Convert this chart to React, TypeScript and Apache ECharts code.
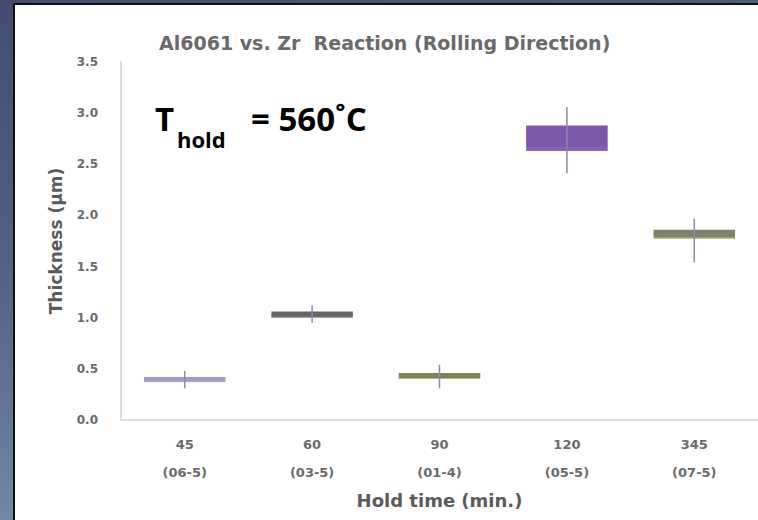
import React, { useEffect, useRef } from 'react';
import * as echarts from 'echarts';

const holdTimes = ['45', '60', '90', '120', '345'];
const sampleIds = ['(06-5)', '(03-5)', '(01-4)', '(05-5)', '(07-5)'];
const whiskerLow = [0.31, 0.95, 0.31, 2.41, 1.54];
const boxLow = [0.37, 1.0, 0.4, 2.63, 1.77];
const boxHigh = [0.42, 1.06, 0.46, 2.88, 1.86];
const whiskerHigh = [0.48, 1.12, 0.54, 3.06, 1.97];
const boxTopColors = ['#a39bbd', '#666666', '#80845e', '#7a58aa', '#7d8268'];
const boxBottomColors = ['#c6bfd8', '#8c8c8c', '#cfe27a', '#8b6ab8', '#cdd98e'];

const titleText = 'Al6061 vs. Zr  Reaction (Rolling Direction)';
const xAxisName = 'Hold time (min.)';
const yAxisName = 'Thickness (μm)';

export default function App() {
  const ref = useRef<HTMLDivElement>(null);
  useEffect(() => {
    if (!ref.current) return;
    const chart = echarts.init(ref.current, undefined, { renderer: 'svg' });
    const categories = holdTimes.map((t, i) => `${t}\n${sampleIds[i]}`);
    const data = holdTimes.map((_, i) => [i, whiskerLow[i], boxLow[i], boxHigh[i], whiskerHigh[i]]);
    chart.setOption({
      animation: false,
      backgroundColor: 'transparent',
      textStyle: { fontFamily: 'DejaVu Sans' },
      title: {
        text: titleText,
        left: 154,
        top: 28,
        textStyle: { fontFamily: 'DejaVu Sans', fontWeight: 'bold', fontSize: 19, color: '#6a6a6a' },
      },
      grid: { left: 121, right: -3, top: 62, bottom: 100 },
      xAxis: {
        type: 'category',
        data: categories,
        name: xAxisName,
        nameLocation: 'middle',
        nameGap: 71,
        nameTextStyle: { fontWeight: 'bold', fontSize: 18, color: '#5a5a5a' },
        axisLine: { lineStyle: { color: '#dedede', width: 2 } },
        axisTick: { show: false },
        axisLabel: { fontWeight: 'bold', fontSize: 13, color: '#6a6a6a', lineHeight: 28, margin: 10 },
        splitLine: { show: false },
      },
      yAxis: {
        type: 'value',
        min: 0,
        max: 3.5,
        interval: 0.5,
        name: yAxisName,
        nameLocation: 'middle',
        nameRotate: 90,
        nameGap: 57,
        nameTextStyle: { fontWeight: 'bold', fontSize: 17, color: '#5a5a5a' },
        axisLine: { show: true, lineStyle: { color: '#dedede', width: 2 } },
        axisTick: { show: false },
        axisLabel: {
          fontWeight: 'bold',
          fontSize: 12,
          color: '#6a6a6a',
          margin: 23,
          formatter: (v: number) => v.toFixed(1),
        },
        splitLine: { show: false },
      },
      series: [
        {
          type: 'custom',
          data,
          encode: { x: 0, y: [1, 2, 3, 4] },
          renderItem: (params: any, api: any) => {
            const i = api.value(0);
            const x = api.coord([i, 0])[0];
            const yMin = api.coord([i, api.value(1)])[1];
            const yQ1 = api.coord([i, api.value(2)])[1];
            const yQ3 = api.coord([i, api.value(3)])[1];
            const yMax = api.coord([i, api.value(4)])[1];
            const w = api.size([1, 0])[0] * 0.64;
            return {
              type: 'group',
              children: [
                {
                  type: 'rect',
                  shape: { x: x - w / 2, y: yQ3, width: w, height: yQ1 - yQ3 },
                  style: {
                    fill: new echarts.graphic.LinearGradient(0, 0, 0, 1, [
                      { offset: 0, color: boxTopColors[i] },
                      { offset: 0.75, color: boxTopColors[i] },
                      { offset: 1, color: boxBottomColors[i] },
                    ]),
                  },
                  z2: 1,
                },
                {
                  type: 'line',
                  shape: { x1: x, y1: yMax, x2: x, y2: yMin },
                  style: { stroke: '#8f88aa', lineWidth: 1.5 },
                  z2: 2,
                },
              ],
            };
          },
        },
      ],
      graphic: [
        {
          type: 'text',
          x: 155,
          y: 118,
          style: { text: 'T', fontFamily: 'Open Sans', fontWeight: 'bold', fontSize: 33, fill: '#000', verticalAlign: 'middle' },
        },
        {
          type: 'text',
          x: 177,
          y: 139,
          style: { text: 'hold', fontFamily: 'Open Sans', fontWeight: 'bold', fontSize: 22, fill: '#000', verticalAlign: 'middle' },
        },
        {
          type: 'text',
          x: 251,
          y: 118,
          style: { text: '= 560˚C', fontFamily: 'Open Sans', fontWeight: 'bold', fontSize: 33, fill: '#000', verticalAlign: 'middle' },
        },
      ],
    });
    return () => chart.dispose();
  }, []);

  return (
    <div
      style={{
        position: 'absolute',
        left: 0,
        top: 0,
        width: 758,
        height: 520,
        overflow: 'hidden',
        background: 'linear-gradient(165deg, #434b72 0%, #55628a 40%, #7890aa 80%, #8ca2b6 100%)',
      }}
    >
      <div
        style={{
          position: 'absolute',
          left: 13,
          top: 3,
          width: 760,
          height: 530,
          background: '#ffffff',
          border: '2px solid #111',
          boxSizing: 'border-box',
        }}
      />
      <div ref={ref} style={{ position: 'absolute', left: 0, top: 0, width: 758, height: 520 }} />
    </div>
  );
}
